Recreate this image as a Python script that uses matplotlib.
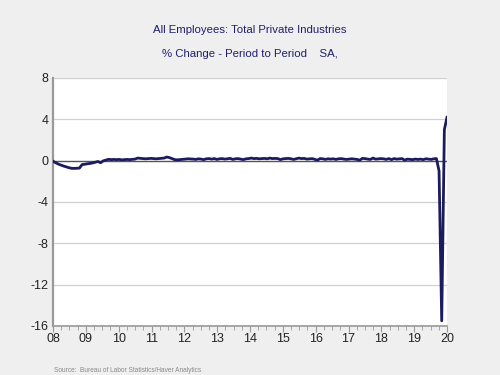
import matplotlib
matplotlib.use('agg')
import matplotlib.pyplot as plt
import numpy as np

plt.rcParams['font.family'] = ['Liberation Sans', 'DejaVu Sans']

# monthly % change, Jan 2008 .. Jun 2020
pct_2008 = [-0.05, -0.2, -0.33, -0.43, -0.52, -0.6, -0.68, -0.74, -0.75, -0.74, -0.72, -0.38]
pct_2009 = [-0.35, -0.3, -0.27, -0.22, -0.15, -0.08, -0.2, -0.02, 0.05, 0.13, 0.1, 0.12]
pct_2010 = [0.1, 0.12, 0.08, 0.1, 0.12, 0.1, 0.12, 0.15, 0.25, 0.22, 0.2, 0.18]
pct_2011 = [0.2, 0.22, 0.2, 0.18, 0.2, 0.22, 0.25, 0.35, 0.3, 0.2, 0.1, 0.08]
pct_2012 = [0.1, 0.12, 0.15, 0.18, 0.17, 0.15, 0.12, 0.18, 0.15, 0.1, 0.18, 0.2]
pct_2013 = [0.15, 0.2, 0.12, 0.18, 0.2, 0.15, 0.18, 0.22, 0.12, 0.18, 0.2, 0.15]
pct_2014 = [0.1, 0.18, 0.2, 0.25, 0.2, 0.22, 0.18, 0.2, 0.22, 0.18, 0.25, 0.2]
pct_2015 = [0.22, 0.2, 0.1, 0.18, 0.2, 0.22, 0.18, 0.12, 0.18, 0.25, 0.2, 0.22]
pct_2016 = [0.15, 0.18, 0.2, 0.12, 0.05, 0.2, 0.18, 0.12, 0.18, 0.15, 0.18, 0.12]
pct_2017 = [0.18, 0.2, 0.15, 0.12, 0.15, 0.18, 0.15, 0.12, 0.05, 0.22, 0.2, 0.15]
pct_2018 = [0.12, 0.25, 0.15, 0.18, 0.2, 0.18, 0.12, 0.2, 0.1, 0.2, 0.15, 0.18]
pct_2019 = [0.2, 0.05, 0.15, 0.12, 0.1, 0.15, 0.12, 0.15, 0.1, 0.18, 0.15, 0.12]
pct_2020 = [0.18, 0.2, -1.0, -15.5, 3.0, 4.2]

year_labels = ['08', '09', '10', '11', '12', '13', '14', '15', '16', '17', '18', '19', '20']
y_ticks = [-16, -12, -8, -4, 0, 4, 8]

values = (pct_2008 + pct_2009 + pct_2010 + pct_2011 + pct_2012 + pct_2013 + pct_2014
          + pct_2015 + pct_2016 + pct_2017 + pct_2018 + pct_2019 + pct_2020)
n = len(values)
x = np.arange(n)

bg = '#efefef'
navy = '#1b1b5e'

fig = plt.figure(figsize=(5, 3.75), dpi=100, facecolor=bg)
ax = fig.add_axes([0.106, 0.1307, 0.788, 0.6613])
ax.set_facecolor('white')

for t in y_ticks:
    if t == 0:
        ax.axhline(t, color='#555555', lw=1.0, zorder=1)
    else:
        ax.axhline(t, color='#d0d0d0', lw=0.9, zorder=1)

ax.plot(x, values, color=navy, lw=2.0, zorder=3)

ax.set_xlim(0, n - 1)
ax.set_ylim(-16, 8)
ax.set_yticks(y_ticks)
ax.set_yticklabels([str(t) for t in y_ticks])

span = n - 1
major = [i * span / 12.0 for i in range(13)]
minor = [i * span / 48.0 for i in range(49)]
ax.set_xticks(major)
ax.set_xticklabels(year_labels)
ax.set_xticks(minor, minor=True)

for s in ['top', 'right']:
    ax.spines[s].set_visible(False)
ax.spines['left'].set_color('#999999')
ax.spines['left'].set_linewidth(1.6)
ax.spines['bottom'].set_color('#999999')
ax.spines['bottom'].set_linewidth(1.2)

ax.tick_params(axis='y', length=0, pad=3, labelsize=9, labelcolor='#222222')
ax.tick_params(axis='x', which='major', length=4, color='#999999', pad=1,
               labelsize=9, labelcolor='#222222')
ax.tick_params(axis='x', which='minor', length=3, color='#999999')

fig.text(0.5, 0.92, 'All Employees: Total Private Industries', ha='center', va='center',
         fontsize=8.2, color='#1f1f6e')
fig.text(0.5, 0.856, '% Change - Period to Period    SA,', ha='center', va='center',
         fontsize=8.2, color='#1f1f6e')
fig.text(0.108, 0.011, 'Source:  Bureau of Labor Statistics/Haver Analytics', ha='left',
         va='center', fontsize=4.7, color='#888888')

fig.savefig('out.png', dpi=100, facecolor=bg)
